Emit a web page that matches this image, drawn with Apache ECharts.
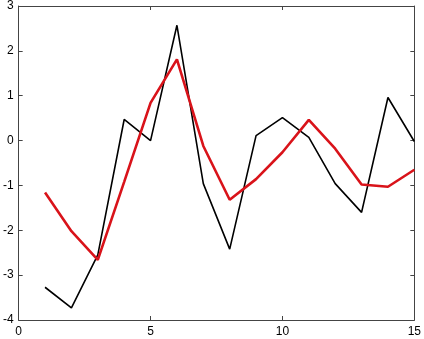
<!DOCTYPE html>
<html><head><meta charset="utf-8">
<script src="https://cdn.jsdelivr.net/npm/echarts@6/dist/echarts.min.js"></script>
<style>html,body{margin:0;padding:0;background:#fff}#c{width:424px;height:339px}</style>
</head><body><div id="c"></div>
<script>
const xs = [1,2,3,4,5,6,7,8,9,10,11,12,13,14,15];
const blackVals = [-3.27,-3.73,-2.55,0.47,0.0,2.57,-0.96,-2.42,0.11,0.51,0.07,-0.96,-1.6,0.96,-0.02];
const redVals = [-1.16,-2.02,-2.66,-0.92,0.84,1.81,-0.12,-1.32,-0.86,-0.26,0.46,-0.18,-0.98,-1.03,-0.65];

const chart = echarts.init(document.getElementById('c'));
const axLine = {show:true, onZero:false, lineStyle:{color:'#444', width:1}};
const tick = {show:true, inside:true, length:4, lineStyle:{color:'#444'}};
const lbl = {color:'#000', fontFamily:'Liberation Sans, Arial', fontSize:12};
chart.setOption({
  animation:false,
  grid:{left:17, right:9, top:5, bottom:19, show:false},
  xAxis:[
    {type:'value', min:0, max:15, interval:5, axisLine:axLine, axisTick:tick, axisLabel:Object.assign({margin:6}, lbl), splitLine:{show:false}},
    {type:'value', position:'top', min:0, max:15, interval:5, axisLine:axLine, axisTick:tick, axisLabel:{show:false}, splitLine:{show:false}}
  ],
  yAxis:[
    {type:'value', min:-4, max:3, interval:1, axisLine:axLine, axisTick:tick, axisLabel:Object.assign({margin:5}, lbl), splitLine:{show:false}},
    {type:'value', position:'right', min:-4, max:3, interval:1, axisLine:axLine, axisTick:tick, axisLabel:{show:false}, splitLine:{show:false}}
  ],
  series:[
    {type:'line', data:xs.map((x,i)=>[x,blackVals[i]]), symbol:'none', lineStyle:{color:'#000', width:1.6}, z:2},
    {type:'line', data:xs.map((x,i)=>[x,redVals[i]]), symbol:'none', lineStyle:{color:'#d9131a', width:2.6}, z:3}
  ]
});
</script></body></html>
